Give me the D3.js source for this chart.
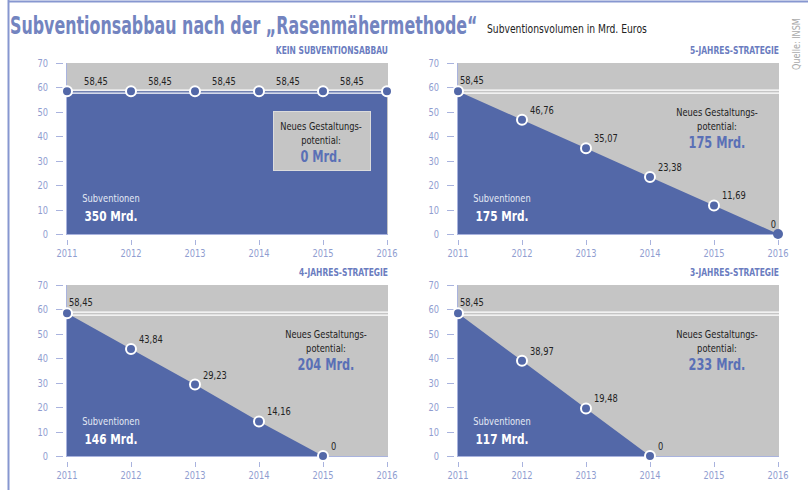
<!DOCTYPE html>
<meta charset="utf-8">
<style>

body {
  margin: 0;
  background: #fff;
}

text {
  font-family: "Liberation Sans Narrow", "DejaVu Sans Condensed", sans-serif;
}

.axis text {
  fill: #8f9dd0;
  font-size: 11px;
}

.axis line {
  stroke: #a9b3de;
}

.val {
  fill: #222;
  font-size: 11px;
}

</style>
<svg width="808" height="490"></svg>
<script src="https://cdn.jsdelivr.net/npm/d3@7/dist/d3.min.js"></script>
<script>

var years = [2011, 2012, 2013, 2014, 2015, 2016];
var yTicks = [0, 10, 20, 30, 40, 50, 60, 70];
var strategies = ["KEIN SUBVENTIONSABBAU", "5-JAHRES-STRATEGIE", "4-JAHRES-STRATEGIE", "3-JAHRES-STRATEGIE"];

var keinAbbau = [58.45, 58.45, 58.45, 58.45, 58.45, 58.45];
var fuenfJahre = [58.45, 46.76, 35.07, 23.38, 11.69, 0];
var vierJahre = [58.45, 43.84, 29.23, 14.16, 0];
var dreiJahre = [58.45, 38.97, 19.48, 0];

var subventionen = ["350 Mrd.", "175 Mrd.", "146 Mrd.", "117 Mrd."];
var potential = ["0 Mrd.", "175 Mrd.", "204 Mrd.", "233 Mrd."];

var blue = "#5368a8",
    grey = "#c5c5c5",
    titleBlue = "#7384c0";

var svg = d3.select("svg");

var de = d3.formatLocale({decimal: ",", thousands: ".", grouping: [3], currency: ["", " €"]});
var fmt = function(v) { return v === 0 ? "0" : de.format(".2f")(v); };

// squeeze a text horizontally around its anchor point
function squeeze(sel, k) {
  sel.each(function() {
    var t = d3.select(this),
        x = +t.attr("x") || 0,
        y = +t.attr("y") || 0;
    t.attr("transform", "translate(" + x + "," + y + ") scale(" + k + ",1) translate(" + (-x) + "," + (-y) + ")");
  });
}
function fitWidth(sel, w) {
  var len = sel.node().getComputedTextLength();
  squeeze(sel, w / len);
}

// frame
svg.append("line").attr("x1", 8).attr("x2", 808).attr("y1", 1.5).attr("y2", 1.5)
    .attr("stroke", "#8797d0").attr("stroke-width", 2);
svg.append("line").attr("x1", 8.5).attr("x2", 8.5).attr("y1", 0).attr("y2", 490)
    .attr("stroke", "#8797d0").attr("stroke-width", 2);

var title = svg.append("text")
    .attr("x", 10).attr("y", 34)
    .style("font-size", "24px").style("font-weight", "bold")
    .attr("fill", titleBlue)
    .text("Subventionsabbau nach der \u201ERasenm\u00E4hermethode\u201C");
fitWidth(title, 468);

var sub = svg.append("text")
    .attr("x", 487).attr("y", 33)
    .style("font-size", "12px").attr("fill", "#222")
    .text("Subventionsvolumen in Mrd. Euros");
fitWidth(sub, 160);

var src = svg.append("text")
    .attr("transform", "translate(800,70) rotate(-90)")
    .style("font-size", "10px").attr("fill", "#aaa")
    .text("Quelle: INSM");

var panels = [
  {left: 67, top: 63, data: keinAbbau},
  {left: 458, top: 63, data: fuenfJahre},
  {left: 67, top: 285, data: vierJahre},
  {left: 458, top: 285, data: dreiJahre}
];
var pw = 320, ph = 171;

panels.forEach(function(p, i) {
  var g = svg.append("g").attr("class", "panel").attr("transform", "translate(" + p.left + "," + p.top + ")");

  var x = d3.scaleLinear().domain([2011, 2016]).range([0, pw]);
  var y = d3.scaleLinear().domain([0, 70]).range([ph, 0]);

  var pts = p.data.map(function(v, j) { return {year: years[j], v: v}; });

  g.append("rect")
      .attr("x", -1).attr("y", y(70))
      .attr("width", pw + 2).attr("height", ph)
      .attr("fill", grey);

  g.append("path")
      .datum(pts)
      .attr("fill", blue)
      .attr("d", d3.area()
          .x(function(d) { return x(d.year); })
          .y0(y(0))
          .y1(function(d) { return y(d.v); }));

  // double white line at starting level
  var yl = y(58.45);
  [yl - 1, yl + 2].forEach(function(yy) {
    g.append("line")
        .attr("x1", 0).attr("x2", pw + 1)
        .attr("y1", yy).attr("y2", yy)
        .attr("stroke", "#fff").attr("stroke-width", 1.2);
  });

  // axes
  var ya = g.append("g").attr("class", "axis");
  ya.append("line").attr("x1", -0.5).attr("x2", -0.5).attr("y1", y(70)).attr("y2", y(0));
  ya.selectAll(".yt").data(yTicks).enter().append("line")
      .attr("x1", -11).attr("x2", -4)
      .attr("y1", function(d) { return Math.round(y(d)) + 0.5; })
      .attr("y2", function(d) { return Math.round(y(d)) + 0.5; });
  ya.selectAll("text").data(yTicks).enter().append("text")
      .attr("x", -19).attr("y", function(d) { return y(d) + 4; })
      .attr("text-anchor", "end")
      .text(function(d) { return d; });

  var xa = g.append("g").attr("class", "axis");
  xa.append("line").attr("x1", -1).attr("x2", pw + 1).attr("y1", ph + 0.5).attr("y2", ph + 0.5);
  xa.selectAll(".xt").data(years).enter().append("line")
      .attr("x1", function(d) { return Math.round(x(d)) + 0.5; })
      .attr("x2", function(d) { return Math.round(x(d)) + 0.5; })
      .attr("y1", ph + 6).attr("y2", ph + 11);
  xa.selectAll("text").data(years).enter().append("text")
      .attr("x", function(d) { return x(d); })
      .attr("y", ph + 23)
      .attr("text-anchor", "middle")
      .text(function(d) { return d; });

  // strategy title
  g.append("text")
      .attr("x", pw + 1).attr("y", -9)
      .attr("text-anchor", "end")
      .style("font-size", "10px").style("font-weight", "bold")
      .attr("fill", "#6a7cc0")
      .text(strategies[i]);

  // points
  g.selectAll("circle").data(pts).enter().append("circle")
      .attr("cx", function(d) { return x(d.year); })
      .attr("cy", function(d) { return y(d.v); })
      .attr("r", 5)
      .attr("fill", blue)
      .attr("stroke", function(d) { return d.year === 2016 && d.v === 0 ? "none" : "#fff"; })
      .attr("stroke-width", 2);

  // value labels
  if (i === 0) {
    g.selectAll(".val").data(pts.slice(1)).enter().append("text")
        .attr("class", "val")
        .attr("x", function(d) { return x(d.year - 0.5) - 3; })
        .attr("y", function(d) { return y(d.v) - 6; })
        .attr("text-anchor", "middle")
        .text(function(d) { return fmt(d.v); });
  } else {
    g.selectAll(".val").data(pts).enter().append("text")
        .attr("class", "val")
        .attr("x", function(d, j) {
          if (d.year === 2016) return x(d.year) - 2;
          return x(d.year) + (j === 0 ? 2 : 8);
        })
        .attr("y", function(d, j) { return y(d.v) - (j === 0 ? 7 : 6); })
        .attr("text-anchor", function(d) { return d.year === 2016 ? "end" : "start"; })
        .text(function(d) { return fmt(d.v); });
  }

  // Subventionen label
  var sx = 44, sy = (i === 0 || i === 1) ? 139 : 140;
  g.append("text")
      .attr("x", sx).attr("y", sy)
      .attr("text-anchor", "middle")
      .style("font-size", "11px").attr("fill", "#e4e8f4")
      .text("Subventionen");
  g.append("text")
      .attr("x", sx).attr("y", sy + 19)
      .attr("text-anchor", "middle")
      .style("font-size", "14px").style("font-weight", "bold").attr("fill", "#fff")
      .text(subventionen[i]);

  // Gestaltungspotential label
  var px = i === 0 ? 254 : 259,
      py = i === 0 ? 67 : 53;
  if (i === 0) {
    g.append("rect")
        .attr("x", 206.5).attr("y", 48.5)
        .attr("width", 97).attr("height", 59)
        .attr("fill", grey).attr("stroke", "#dcdcdc");
  }
  g.append("text")
      .attr("x", px).attr("y", py)
      .attr("text-anchor", "middle")
      .style("font-size", "11px").attr("fill", "#222")
      .text("Neues Gestaltungs-");
  g.append("text")
      .attr("x", px).attr("y", py + 14)
      .attr("text-anchor", "middle")
      .style("font-size", "11px").attr("fill", "#222")
      .text("potential:");
  g.append("text")
      .attr("x", px).attr("y", py + 32)
      .attr("text-anchor", "middle")
      .style("font-size", "15px").style("font-weight", "bold").attr("fill", "#5a70b6")
      .text(potential[i]);
});

// the original face is narrower than the installed condensed fonts
squeeze(svg.selectAll(".panel text"), 0.84);
squeeze(src, 1);
src.attr("transform", "translate(800,70) rotate(-90) scale(0.9,1)");

</script>
